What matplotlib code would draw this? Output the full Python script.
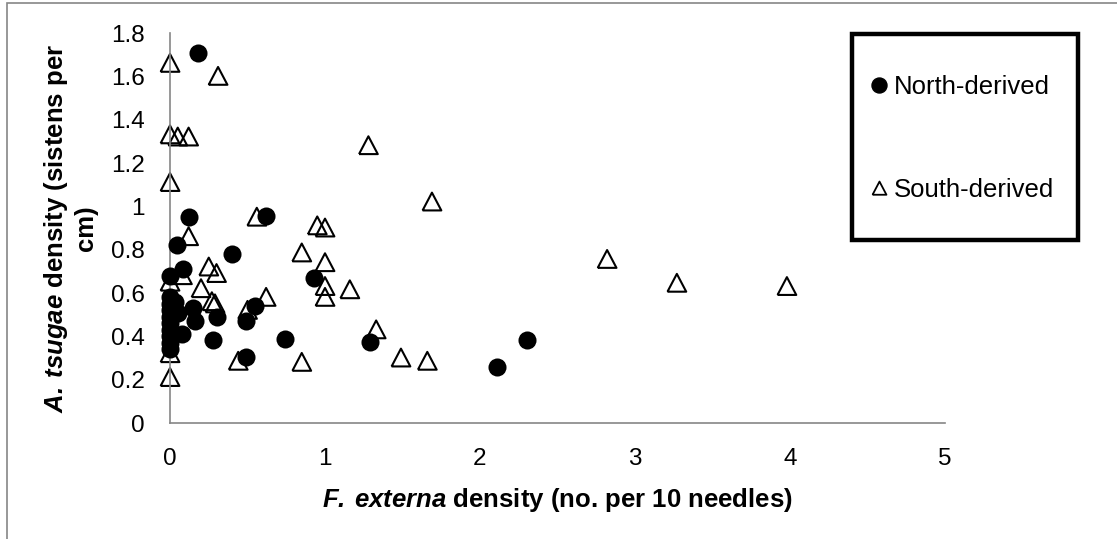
import matplotlib
matplotlib.use('Agg')
import matplotlib.pyplot as plt
from matplotlib.patches import Rectangle
from matplotlib.lines import Line2D

plt.rcParams['font.family'] = ['Liberation Sans', 'DejaVu Sans']
plt.rcParams['mathtext.fontset'] = 'custom'
plt.rcParams['mathtext.rm'] = 'Liberation Sans'
plt.rcParams['mathtext.bf'] = 'Liberation Sans:bold'
plt.rcParams['mathtext.bfit'] = 'Liberation Sans:italic:bold'

# North-derived (filled circles)
north_x = [0.18, 0.12, 0.62, 0.045, 0.40, 0.085, 0.0, 0.93, 0.0, 0.03,
           0.0, 0.55, 0.15, 0.0, 0.05, 0.0, 0.30, 0.16, 0.49, 0.0,
           0.0, 0.08, 0.0, 0.74, 0.28, 0.0, 1.29, 2.30, 0.0, 0.49, 2.11]
north_y = [1.71, 0.95, 0.955, 0.82, 0.78, 0.71, 0.68, 0.67, 0.58, 0.56,
           0.55, 0.54, 0.53, 0.52, 0.51, 0.49, 0.49, 0.47, 0.47, 0.46,
           0.43, 0.41, 0.40, 0.39, 0.385, 0.37, 0.375, 0.385, 0.34, 0.305, 0.26]

# South-derived (open triangles)
south_x = [0.0, 0.31, 0.0, 0.05, 0.12, 0.0, 1.28, 1.69, 0.56, 0.95,
           1.0, 0.12, 0.85, 1.0, 0.25, 0.30, 0.08, 0.0, 0.2, 0.62,
           1.16, 1.0, 1.0, 0.27, 0.29, 0.50, 1.33, 0.44, 0.85, 1.49,
           1.66, 0.0, 0.0, 2.82, 3.27, 3.98]
south_y = [1.66, 1.60, 1.33, 1.32, 1.32, 1.11, 1.28, 1.02, 0.95, 0.91,
           0.90, 0.86, 0.785, 0.74, 0.72, 0.69, 0.68, 0.65, 0.62, 0.58,
           0.615, 0.63, 0.58, 0.56, 0.55, 0.52, 0.43, 0.285, 0.28, 0.30,
           0.285, 0.32, 0.21, 0.755, 0.645, 0.63]

x_ticks = [0, 1, 2, 3, 4, 5]
y_ticks = [0, 0.2, 0.4, 0.6, 0.8, 1.0, 1.2, 1.4, 1.6, 1.8]
y_ticklabels = ['0', '0.2', '0.4', '0.6', '0.8', '1', '1.2', '1.4', '1.6', '1.8']

W, H = 1117, 539
fig = plt.figure(figsize=(W / 100, H / 100), dpi=100)
ax = fig.add_axes([170 / W, 1 - 423 / H, (945 - 170) / W, (423 - 33) / H])

# open triangle, a touch wider than tall
tri = [(-1.0, -0.9), (1.0, -0.9), (0.0, 1.0), (-1.0, -0.9)]

ax.scatter(south_x, south_y, marker=tri, s=13.5 ** 2, facecolors='none',
           edgecolors='black', linewidths=1.5, zorder=2, clip_on=False)
ax.scatter(north_x, north_y, marker='o', s=13 ** 2, color='black',
           linewidths=0, zorder=3, clip_on=False)

ax.set_xlim(0, 5)
ax.set_ylim(0, 1.8)
ax.set_xticks(x_ticks)
ax.set_yticks(y_ticks)
ax.set_yticklabels(y_ticklabels)
ax.tick_params(length=0, labelsize=17.5, pad=18)
for side in ['top', 'right']:
    ax.spines[side].set_visible(False)
for side in ['left', 'bottom']:
    ax.spines[side].set_color('#868686')
    ax.spines[side].set_linewidth(1.2)

ax.set_xlabel(r'$\mathbfit{F.\,externa}$ density (no. per 10 needles)',
              fontsize=18.5, fontweight='bold')
ax.xaxis.set_label_coords(0.5, (423 - 486) / 390)
ax.set_ylabel(r'$\mathbfit{A.\,tsugae}$ density (sistens per' + '\ncm)',
              fontsize=18.5, fontweight='bold')
ax.yaxis.set_label_coords((98 - 170) / 775, 0.5)

# legend box with heavy border
fig.patches.append(Rectangle((852 / W, 1 - 240 / H), (1078 - 852) / W, (240 - 34) / H,
                             transform=fig.transFigure, facecolor='white',
                             edgecolor='black', linewidth=3.2, zorder=5))
handles = [Line2D([], [], marker='o', color='black', linestyle='none', markersize=10.8),
           Line2D([], [], marker=tri, markerfacecolor='none', markeredgecolor='black',
                  markeredgewidth=1.3, linestyle='none', markersize=10)]
leg = fig.legend(handles, ['North-derived', 'South-derived'], loc='upper left',
                 bbox_to_anchor=(871 / W, 1 - 75 / H), frameon=False, fontsize=18.5,
                 handlelength=0.6, handletextpad=0.28, labelspacing=3.09,
                 borderpad=0, borderaxespad=0)
leg.set_zorder(6)

# outer chart border
fig.patches.append(Rectangle((7 / W, -0.01), 1.02, 1 - 3 / H + 0.01,
                             transform=fig.transFigure, facecolor='none',
                             edgecolor='#868686', linewidth=1.2, zorder=0))

fig.savefig('out.png', dpi=100)
